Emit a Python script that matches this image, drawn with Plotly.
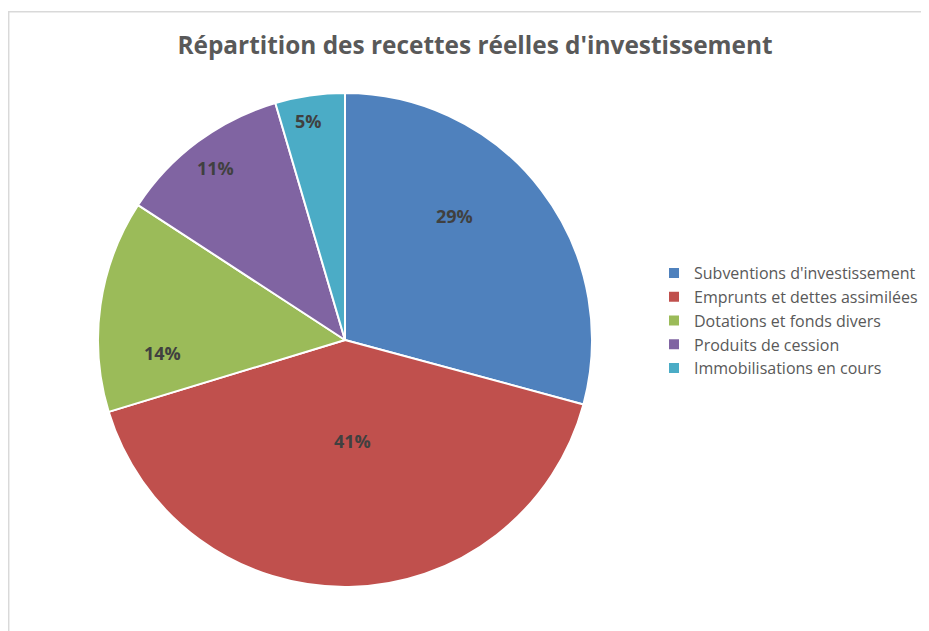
import math
import plotly.graph_objects as go

# The page has an 8px body margin, so the figure is 8px smaller than the window.
W, H = 921, 623
OFF = 8

categories = ["Subventions d'investissement", "Emprunts et dettes assimilées",
              "Dotations et fonds divers", "Produits de cession", "Immobilisations en cours"]
values = [29.2, 41.1, 13.9, 11.25, 4.55]
colors = ["#4F81BD", "#C0504D", "#9BBB59", "#8064A2", "#4BACC6"]
title = "Répartition des recettes réelles d'investissement"

# style: label placement (fraction of radius, angular shift in degrees)
label_radius = [0.67, 0.41, 0.74, 0.87, 0.90]
label_shift = [-11.3, -3.1, -12.1, -0.3, -1.3]

cx, cy, r = 345 - OFF, 340 - OFF, 247

fig = go.Figure(go.Pie(
    labels=categories, values=values, sort=False, direction="clockwise", rotation=0,
    marker=dict(colors=colors, line=dict(color="white", width=2)),
    textinfo="none",
    domain=dict(x=[(cx - r) / W, (cx + r) / W], y=[1 - (cy + r) / H, 1 - (cy - r) / H]),
    hoverinfo="label+percent",
))

total = sum(values)
annotations = []
cum = 0
for v, rf, sh in zip(values, label_radius, label_shift):
    a = math.radians((cum + v / 2) / total * 360 + sh)
    cum += v
    px = cx + rf * r * math.sin(a)
    py = cy - rf * r * math.cos(a)
    annotations.append(dict(
        x=px / W, y=1 - py / H, xref="paper", yref="paper", showarrow=False,
        text=f"<b>{round(v / total * 100)}%</b>", xanchor="center", yanchor="middle",
        font=dict(family="Open Sans", size=18, color="#404040")))

fig.update_layout(
    width=W, height=H, margin=dict(l=0, r=0, t=0, b=0),
    paper_bgcolor="white", plot_bgcolor="white",
    font=dict(family="Open Sans", color="#595959"),
    title=dict(text=f"<b>{title}</b>", x=(475 - OFF) / W, xanchor="center",
               y=1 - (45 - OFF) / H, yanchor="middle",
               font=dict(size=24.4, color="#595959", family="Open Sans")),
    legend=dict(x=(654 - OFF) / W, y=1 - (256 - OFF) / H, xanchor="left", yanchor="top",
                font=dict(size=16, color="#595959", family="Open Sans"),
                itemwidth=30, tracegroupgap=0),
    annotations=annotations,
    shapes=[dict(type="rect", xref="paper", yref="paper", x0=0.7 / W, x1=1.05,
                 y0=-0.05, y1=1 - 3.7 / H, line=dict(color="#d9d9d9", width=1.5),
                 fillcolor="rgba(0,0,0,0)", layer="below")],
)

fig.write_html("out.html")
